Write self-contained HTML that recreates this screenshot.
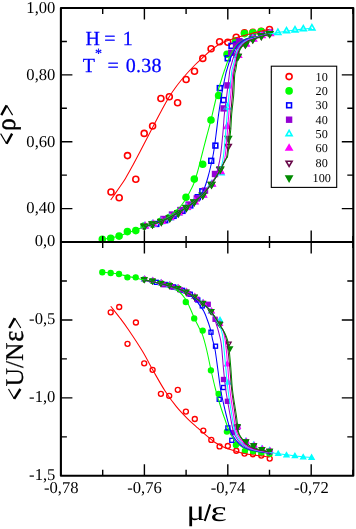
<!DOCTYPE html>
<html><head><meta charset="utf-8"><title>chart</title>
<style>
html,body{margin:0;padding:0;background:#fff}
body{width:356px;height:529px;overflow:hidden}
.t{font-family:"Liberation Serif",serif;text-rendering:geometricPrecision}
svg{will-change:transform}
</style></head><body>
<svg width="356" height="529" viewBox="0 0 356 529" style="display:block">
<rect width="356" height="529" fill="#ffffff"/>
<defs><clipPath id="ct"><rect x="60.9" y="8.1" width="292.4" height="233.9"/></clipPath><clipPath id="cb"><rect x="60.9" y="242.0" width="292.4" height="233.8"/></clipPath></defs>
<g clip-path="url(#ct)">
<circle cx="111.00" cy="192.00" r="3.00" fill="none" stroke="#ff0000" stroke-width="1.60"/>
<circle cx="119.20" cy="197.70" r="3.00" fill="none" stroke="#ff0000" stroke-width="1.60"/>
<circle cx="127.50" cy="155.60" r="3.00" fill="none" stroke="#ff0000" stroke-width="1.60"/>
<circle cx="135.80" cy="179.20" r="3.00" fill="none" stroke="#ff0000" stroke-width="1.60"/>
<circle cx="144.20" cy="133.40" r="3.00" fill="none" stroke="#ff0000" stroke-width="1.60"/>
<circle cx="152.60" cy="126.00" r="3.00" fill="none" stroke="#ff0000" stroke-width="1.60"/>
<circle cx="160.90" cy="98.50" r="3.00" fill="none" stroke="#ff0000" stroke-width="1.60"/>
<circle cx="169.30" cy="96.70" r="3.00" fill="none" stroke="#ff0000" stroke-width="1.60"/>
<circle cx="177.60" cy="102.80" r="3.00" fill="none" stroke="#ff0000" stroke-width="1.60"/>
<circle cx="186.10" cy="79.50" r="3.00" fill="none" stroke="#ff0000" stroke-width="1.60"/>
<circle cx="194.50" cy="71.20" r="3.00" fill="none" stroke="#ff0000" stroke-width="1.60"/>
<circle cx="202.80" cy="58.40" r="3.00" fill="none" stroke="#ff0000" stroke-width="1.60"/>
<circle cx="211.10" cy="48.70" r="3.00" fill="none" stroke="#ff0000" stroke-width="1.60"/>
<circle cx="219.60" cy="41.70" r="3.00" fill="none" stroke="#ff0000" stroke-width="1.60"/>
<circle cx="227.80" cy="42.20" r="3.00" fill="none" stroke="#ff0000" stroke-width="1.60"/>
<circle cx="236.20" cy="37.20" r="3.00" fill="none" stroke="#ff0000" stroke-width="1.60"/>
<circle cx="244.50" cy="32.70" r="3.00" fill="none" stroke="#ff0000" stroke-width="1.60"/>
<circle cx="252.90" cy="32.40" r="3.00" fill="none" stroke="#ff0000" stroke-width="1.60"/>
<circle cx="261.20" cy="31.20" r="3.00" fill="none" stroke="#ff0000" stroke-width="1.60"/>
<circle cx="269.50" cy="29.50" r="3.00" fill="none" stroke="#ff0000" stroke-width="1.60"/>
<circle cx="102.30" cy="239.20" r="3.00" fill="#00ff00" stroke="#00ff00" stroke-width="1.60"/>
<circle cx="110.70" cy="238.20" r="3.00" fill="#00ff00" stroke="#00ff00" stroke-width="1.60"/>
<circle cx="119.10" cy="236.10" r="3.00" fill="#00ff00" stroke="#00ff00" stroke-width="1.60"/>
<circle cx="127.40" cy="231.60" r="3.00" fill="#00ff00" stroke="#00ff00" stroke-width="1.60"/>
<circle cx="135.80" cy="230.60" r="3.00" fill="#00ff00" stroke="#00ff00" stroke-width="1.60"/>
<circle cx="144.10" cy="226.00" r="3.00" fill="#00ff00" stroke="#00ff00" stroke-width="1.60"/>
<circle cx="152.50" cy="224.30" r="3.00" fill="#00ff00" stroke="#00ff00" stroke-width="1.60"/>
<circle cx="160.90" cy="221.30" r="3.00" fill="#00ff00" stroke="#00ff00" stroke-width="1.60"/>
<circle cx="169.30" cy="217.50" r="3.00" fill="#00ff00" stroke="#00ff00" stroke-width="1.60"/>
<circle cx="177.60" cy="213.00" r="3.00" fill="#00ff00" stroke="#00ff00" stroke-width="1.60"/>
<circle cx="186.00" cy="197.20" r="3.00" fill="#00ff00" stroke="#00ff00" stroke-width="1.60"/>
<circle cx="194.30" cy="179.10" r="3.00" fill="#00ff00" stroke="#00ff00" stroke-width="1.60"/>
<circle cx="202.70" cy="164.20" r="3.00" fill="#00ff00" stroke="#00ff00" stroke-width="1.60"/>
<circle cx="211.00" cy="120.00" r="3.00" fill="#00ff00" stroke="#00ff00" stroke-width="1.60"/>
<circle cx="218.60" cy="95.50" r="3.00" fill="#00ff00" stroke="#00ff00" stroke-width="1.60"/>
<circle cx="227.00" cy="54.20" r="3.00" fill="#00ff00" stroke="#00ff00" stroke-width="1.60"/>
<circle cx="235.60" cy="40.70" r="3.00" fill="#00ff00" stroke="#00ff00" stroke-width="1.60"/>
<circle cx="244.50" cy="33.60" r="3.00" fill="#00ff00" stroke="#00ff00" stroke-width="1.60"/>
<circle cx="252.80" cy="32.70" r="3.00" fill="#00ff00" stroke="#00ff00" stroke-width="1.60"/>
<circle cx="261.20" cy="31.60" r="3.00" fill="#00ff00" stroke="#00ff00" stroke-width="1.60"/>
<circle cx="269.30" cy="33.00" r="3.00" fill="#00ff00" stroke="#00ff00" stroke-width="1.60"/>
<rect x="153.90" y="221.54" width="4.80" height="4.80" fill="none" stroke="#0000ff" stroke-width="1.60"/>
<rect x="162.80" y="217.85" width="4.80" height="4.80" fill="none" stroke="#0000ff" stroke-width="1.60"/>
<rect x="171.20" y="213.45" width="4.80" height="4.80" fill="none" stroke="#0000ff" stroke-width="1.60"/>
<rect x="180.10" y="208.48" width="4.80" height="4.80" fill="none" stroke="#0000ff" stroke-width="1.60"/>
<rect x="187.90" y="203.01" width="4.80" height="4.80" fill="none" stroke="#0000ff" stroke-width="1.60"/>
<rect x="195.40" y="194.80" width="4.80" height="4.80" fill="none" stroke="#0000ff" stroke-width="1.60"/>
<rect x="199.90" y="188.90" width="4.80" height="4.80" fill="none" stroke="#0000ff" stroke-width="1.60"/>
<rect x="208.80" y="158.40" width="4.80" height="4.80" fill="none" stroke="#0000ff" stroke-width="1.60"/>
<rect x="213.00" y="143.20" width="4.80" height="4.80" fill="none" stroke="#0000ff" stroke-width="1.60"/>
<rect x="217.40" y="85.70" width="4.80" height="4.80" fill="none" stroke="#0000ff" stroke-width="1.60"/>
<rect x="221.20" y="97.70" width="4.80" height="4.80" fill="none" stroke="#0000ff" stroke-width="1.60"/>
<rect x="225.30" y="55.90" width="4.80" height="4.80" fill="none" stroke="#0000ff" stroke-width="1.60"/>
<rect x="229.10" y="43.50" width="4.80" height="4.80" fill="none" stroke="#0000ff" stroke-width="1.60"/>
<rect x="233.90" y="42.10" width="4.80" height="4.80" fill="none" stroke="#0000ff" stroke-width="1.60"/>
<rect x="236.90" y="39.10" width="4.80" height="4.80" fill="none" stroke="#0000ff" stroke-width="1.60"/>
<rect x="243.00" y="40.40" width="4.80" height="4.80" fill="none" stroke="#0000ff" stroke-width="1.60"/>
<rect x="250.40" y="35.50" width="4.80" height="4.80" fill="none" stroke="#0000ff" stroke-width="1.60"/>
<rect x="258.90" y="32.40" width="4.80" height="4.80" fill="none" stroke="#0000ff" stroke-width="1.60"/>
<rect x="267.20" y="30.40" width="4.80" height="4.80" fill="none" stroke="#0000ff" stroke-width="1.60"/>
<rect x="161.10" y="216.60" width="4.80" height="4.80" fill="#9400d3" stroke="#9400d3" stroke-width="1.60"/>
<rect x="169.60" y="212.15" width="4.80" height="4.80" fill="#9400d3" stroke="#9400d3" stroke-width="1.60"/>
<rect x="178.00" y="207.63" width="4.80" height="4.80" fill="#9400d3" stroke="#9400d3" stroke-width="1.60"/>
<rect x="186.20" y="202.13" width="4.80" height="4.80" fill="#9400d3" stroke="#9400d3" stroke-width="1.60"/>
<rect x="194.40" y="196.04" width="4.80" height="4.80" fill="#9400d3" stroke="#9400d3" stroke-width="1.60"/>
<rect x="202.60" y="188.21" width="4.80" height="4.80" fill="#9400d3" stroke="#9400d3" stroke-width="1.60"/>
<rect x="212.60" y="171.60" width="4.80" height="4.80" fill="#9400d3" stroke="#9400d3" stroke-width="1.60"/>
<rect x="221.20" y="106.00" width="4.80" height="4.80" fill="#9400d3" stroke="#9400d3" stroke-width="1.60"/>
<rect x="225.10" y="83.00" width="4.80" height="4.80" fill="#9400d3" stroke="#9400d3" stroke-width="1.60"/>
<rect x="228.90" y="50.40" width="4.80" height="4.80" fill="#9400d3" stroke="#9400d3" stroke-width="1.60"/>
<rect x="233.60" y="43.40" width="4.80" height="4.80" fill="#9400d3" stroke="#9400d3" stroke-width="1.60"/>
<rect x="236.70" y="38.70" width="4.80" height="4.80" fill="#9400d3" stroke="#9400d3" stroke-width="1.60"/>
<rect x="243.00" y="40.40" width="4.80" height="4.80" fill="#9400d3" stroke="#9400d3" stroke-width="1.60"/>
<rect x="250.40" y="35.50" width="4.80" height="4.80" fill="#9400d3" stroke="#9400d3" stroke-width="1.60"/>
<rect x="258.90" y="32.40" width="4.80" height="4.80" fill="#9400d3" stroke="#9400d3" stroke-width="1.60"/>
<rect x="267.20" y="30.40" width="4.80" height="4.80" fill="#9400d3" stroke="#9400d3" stroke-width="1.60"/>
<polygon points="144.40,222.74 141.40,227.93 147.40,227.93" fill="none" stroke="#00ffff" stroke-width="1.60" stroke-linejoin="miter"/>
<polygon points="152.50,220.64 149.50,225.83 155.50,225.83" fill="none" stroke="#00ffff" stroke-width="1.60" stroke-linejoin="miter"/>
<polygon points="161.30,218.14 158.30,223.33 164.30,223.33" fill="none" stroke="#00ffff" stroke-width="1.60" stroke-linejoin="miter"/>
<polygon points="169.80,214.44 166.80,219.63 172.80,219.63" fill="none" stroke="#00ffff" stroke-width="1.60" stroke-linejoin="miter"/>
<polygon points="178.20,209.64 175.20,214.83 181.20,214.83" fill="none" stroke="#00ffff" stroke-width="1.60" stroke-linejoin="miter"/>
<polygon points="186.40,204.14 183.40,209.33 189.40,209.33" fill="none" stroke="#00ffff" stroke-width="1.60" stroke-linejoin="miter"/>
<polygon points="194.20,198.54 191.20,203.73 197.20,203.73" fill="none" stroke="#00ffff" stroke-width="1.60" stroke-linejoin="miter"/>
<polygon points="202.70,191.74 199.70,196.93 205.70,196.93" fill="none" stroke="#00ffff" stroke-width="1.60" stroke-linejoin="miter"/>
<polygon points="211.50,180.94 208.50,186.13 214.50,186.13" fill="none" stroke="#00ffff" stroke-width="1.60" stroke-linejoin="miter"/>
<polygon points="221.00,169.54 218.00,174.73 224.00,174.73" fill="none" stroke="#00ffff" stroke-width="1.60" stroke-linejoin="miter"/>
<polygon points="227.50,103.64 224.50,108.83 230.50,108.83" fill="none" stroke="#00ffff" stroke-width="1.60" stroke-linejoin="miter"/>
<polygon points="237.40,52.04 234.40,57.23 240.40,57.23" fill="none" stroke="#00ffff" stroke-width="1.60" stroke-linejoin="miter"/>
<polygon points="245.40,40.34 242.40,45.53 248.40,45.53" fill="none" stroke="#00ffff" stroke-width="1.60" stroke-linejoin="miter"/>
<polygon points="252.80,35.24 249.80,40.43 255.80,40.43" fill="none" stroke="#00ffff" stroke-width="1.60" stroke-linejoin="miter"/>
<polygon points="261.30,31.94 258.30,37.13 264.30,37.13" fill="none" stroke="#00ffff" stroke-width="1.60" stroke-linejoin="miter"/>
<polygon points="269.60,29.74 266.60,34.93 272.60,34.93" fill="none" stroke="#00ffff" stroke-width="1.60" stroke-linejoin="miter"/>
<polygon points="277.90,29.19 274.90,34.38 280.90,34.38" fill="none" stroke="#00ffff" stroke-width="1.60" stroke-linejoin="miter"/>
<polygon points="286.50,27.59 283.50,32.78 289.50,32.78" fill="none" stroke="#00ffff" stroke-width="1.60" stroke-linejoin="miter"/>
<polygon points="295.00,26.69 292.00,31.88 298.00,31.88" fill="none" stroke="#00ffff" stroke-width="1.60" stroke-linejoin="miter"/>
<polygon points="303.30,25.59 300.30,30.78 306.30,30.78" fill="none" stroke="#00ffff" stroke-width="1.60" stroke-linejoin="miter"/>
<polygon points="311.90,24.69 308.90,29.88 314.90,29.88" fill="none" stroke="#00ffff" stroke-width="1.60" stroke-linejoin="miter"/>
<polygon points="145.10,222.64 142.10,227.83 148.10,227.83" fill="#ff00ff" stroke="#ff00ff" stroke-width="1.60" stroke-linejoin="miter"/>
<polygon points="153.20,220.54 150.20,225.73 156.20,225.73" fill="#ff00ff" stroke="#ff00ff" stroke-width="1.60" stroke-linejoin="miter"/>
<polygon points="162.00,218.04 159.00,223.23 165.00,223.23" fill="#ff00ff" stroke="#ff00ff" stroke-width="1.60" stroke-linejoin="miter"/>
<polygon points="170.50,214.34 167.50,219.53 173.50,219.53" fill="#ff00ff" stroke="#ff00ff" stroke-width="1.60" stroke-linejoin="miter"/>
<polygon points="178.90,209.54 175.90,214.73 181.90,214.73" fill="#ff00ff" stroke="#ff00ff" stroke-width="1.60" stroke-linejoin="miter"/>
<polygon points="187.10,204.04 184.10,209.23 190.10,209.23" fill="#ff00ff" stroke="#ff00ff" stroke-width="1.60" stroke-linejoin="miter"/>
<polygon points="194.90,198.44 191.90,203.63 197.90,203.63" fill="#ff00ff" stroke="#ff00ff" stroke-width="1.60" stroke-linejoin="miter"/>
<polygon points="203.40,191.64 200.40,196.83 206.40,196.83" fill="#ff00ff" stroke="#ff00ff" stroke-width="1.60" stroke-linejoin="miter"/>
<polygon points="212.20,180.84 209.20,186.03 215.20,186.03" fill="#ff00ff" stroke="#ff00ff" stroke-width="1.60" stroke-linejoin="miter"/>
<polygon points="220.70,168.14 217.70,173.33 223.70,173.33" fill="#ff00ff" stroke="#ff00ff" stroke-width="1.60" stroke-linejoin="miter"/>
<polygon points="227.20,123.29 224.20,128.48 230.20,128.48" fill="#ff00ff" stroke="#ff00ff" stroke-width="1.60" stroke-linejoin="miter"/>
<polygon points="238.40,52.04 235.40,57.23 241.40,57.23" fill="#ff00ff" stroke="#ff00ff" stroke-width="1.60" stroke-linejoin="miter"/>
<polygon points="246.10,40.74 243.10,45.93 249.10,45.93" fill="#ff00ff" stroke="#ff00ff" stroke-width="1.60" stroke-linejoin="miter"/>
<polygon points="253.50,35.64 250.50,40.83 256.50,40.83" fill="#ff00ff" stroke="#ff00ff" stroke-width="1.60" stroke-linejoin="miter"/>
<polygon points="262.00,32.34 259.00,37.53 265.00,37.53" fill="#ff00ff" stroke="#ff00ff" stroke-width="1.60" stroke-linejoin="miter"/>
<polygon points="270.30,30.14 267.30,35.33 273.30,35.33" fill="#ff00ff" stroke="#ff00ff" stroke-width="1.60" stroke-linejoin="miter"/>
<polygon points="144.40,229.66 141.40,224.47 147.40,224.47" fill="none" stroke="#670748" stroke-width="1.60" stroke-linejoin="miter"/>
<polygon points="152.50,227.56 149.50,222.37 155.50,222.37" fill="none" stroke="#670748" stroke-width="1.60" stroke-linejoin="miter"/>
<polygon points="161.30,225.06 158.30,219.87 164.30,219.87" fill="none" stroke="#670748" stroke-width="1.60" stroke-linejoin="miter"/>
<polygon points="169.80,221.36 166.80,216.17 172.80,216.17" fill="none" stroke="#670748" stroke-width="1.60" stroke-linejoin="miter"/>
<polygon points="178.20,216.56 175.20,211.37 181.20,211.37" fill="none" stroke="#670748" stroke-width="1.60" stroke-linejoin="miter"/>
<polygon points="186.40,211.06 183.40,205.87 189.40,205.87" fill="none" stroke="#670748" stroke-width="1.60" stroke-linejoin="miter"/>
<polygon points="194.20,205.46 191.20,200.27 197.20,200.27" fill="none" stroke="#670748" stroke-width="1.60" stroke-linejoin="miter"/>
<polygon points="202.70,198.66 199.70,193.47 205.70,193.47" fill="none" stroke="#670748" stroke-width="1.60" stroke-linejoin="miter"/>
<polygon points="211.50,187.86 208.50,182.67 214.50,182.67" fill="none" stroke="#670748" stroke-width="1.60" stroke-linejoin="miter"/>
<polygon points="220.10,172.96 217.10,167.77 223.10,167.77" fill="none" stroke="#670748" stroke-width="1.60" stroke-linejoin="miter"/>
<polygon points="228.20,149.66 225.20,144.47 231.20,144.47" fill="none" stroke="#670748" stroke-width="1.60" stroke-linejoin="miter"/>
<polygon points="237.70,59.66 234.70,54.47 240.70,54.47" fill="none" stroke="#670748" stroke-width="1.60" stroke-linejoin="miter"/>
<polygon points="245.40,47.76 242.40,42.57 248.40,42.57" fill="none" stroke="#670748" stroke-width="1.60" stroke-linejoin="miter"/>
<polygon points="252.80,42.66 249.80,37.47 255.80,37.47" fill="none" stroke="#670748" stroke-width="1.60" stroke-linejoin="miter"/>
<polygon points="261.30,39.36 258.30,34.17 264.30,34.17" fill="none" stroke="#670748" stroke-width="1.60" stroke-linejoin="miter"/>
<polygon points="269.60,37.16 266.60,31.97 272.60,31.97" fill="none" stroke="#670748" stroke-width="1.60" stroke-linejoin="miter"/>
<polygon points="144.40,229.46 141.40,224.27 147.40,224.27" fill="#008b00" stroke="#008b00" stroke-width="1.60" stroke-linejoin="miter"/>
<polygon points="152.50,227.36 149.50,222.17 155.50,222.17" fill="#008b00" stroke="#008b00" stroke-width="1.60" stroke-linejoin="miter"/>
<polygon points="161.30,224.86 158.30,219.67 164.30,219.67" fill="#008b00" stroke="#008b00" stroke-width="1.60" stroke-linejoin="miter"/>
<polygon points="169.80,221.16 166.80,215.97 172.80,215.97" fill="#008b00" stroke="#008b00" stroke-width="1.60" stroke-linejoin="miter"/>
<polygon points="178.20,216.36 175.20,211.17 181.20,211.17" fill="#008b00" stroke="#008b00" stroke-width="1.60" stroke-linejoin="miter"/>
<polygon points="186.40,210.86 183.40,205.67 189.40,205.67" fill="#008b00" stroke="#008b00" stroke-width="1.60" stroke-linejoin="miter"/>
<polygon points="194.20,205.26 191.20,200.07 197.20,200.07" fill="#008b00" stroke="#008b00" stroke-width="1.60" stroke-linejoin="miter"/>
<polygon points="202.70,198.46 199.70,193.27 205.70,193.27" fill="#008b00" stroke="#008b00" stroke-width="1.60" stroke-linejoin="miter"/>
<polygon points="211.50,187.66 208.50,182.47 214.50,182.47" fill="#008b00" stroke="#008b00" stroke-width="1.60" stroke-linejoin="miter"/>
<polygon points="220.40,172.36 217.40,167.17 223.40,167.17" fill="#008b00" stroke="#008b00" stroke-width="1.60" stroke-linejoin="miter"/>
<polygon points="228.30,141.86 225.30,136.67 231.30,136.67" fill="#008b00" stroke="#008b00" stroke-width="1.60" stroke-linejoin="miter"/>
<polygon points="237.90,59.86 234.90,54.67 240.90,54.67" fill="#008b00" stroke="#008b00" stroke-width="1.60" stroke-linejoin="miter"/>
<polygon points="245.40,47.56 242.40,42.37 248.40,42.37" fill="#008b00" stroke="#008b00" stroke-width="1.60" stroke-linejoin="miter"/>
<polygon points="252.80,42.46 249.80,37.27 255.80,37.27" fill="#008b00" stroke="#008b00" stroke-width="1.60" stroke-linejoin="miter"/>
<polygon points="261.30,39.16 258.30,33.97 264.30,33.97" fill="#008b00" stroke="#008b00" stroke-width="1.60" stroke-linejoin="miter"/>
<polygon points="269.60,36.96 266.60,31.77 272.60,31.77" fill="#008b00" stroke="#008b00" stroke-width="1.60" stroke-linejoin="miter"/>
<path d="M110.70,200.00 C111.92,198.25 115.57,193.05 118.00,189.50 C120.43,185.95 122.80,182.78 125.30,178.70 C127.80,174.62 130.47,169.65 133.00,165.00 C135.53,160.35 137.23,157.05 140.50,150.80 C143.77,144.55 149.18,134.05 152.60,127.50 C156.02,120.95 158.25,116.58 161.00,111.50 C163.75,106.42 166.43,101.33 169.10,97.00 C171.77,92.67 174.18,89.25 177.00,85.50 C179.82,81.75 183.02,77.92 186.00,74.50 C188.98,71.08 192.10,67.83 194.90,65.00 C197.70,62.17 200.17,59.92 202.80,57.50 C205.43,55.08 207.73,52.83 210.70,50.50 C213.67,48.17 216.43,45.58 220.60,43.50 C224.77,41.42 230.80,39.58 235.70,38.00 C240.60,36.42 245.95,35.10 250.00,34.00 C254.05,32.90 256.75,32.15 260.00,31.40 C263.25,30.65 267.92,29.82 269.50,29.50" fill="none" stroke="#ff0000" stroke-width="1.05"/>
<path d="M102.30,239.20 C103.70,239.00 107.90,238.53 110.70,238.00 C113.50,237.47 116.32,236.83 119.10,236.00 C121.88,235.17 124.62,234.00 127.40,233.00 C130.18,232.00 133.02,231.03 135.80,230.00 C138.58,228.97 141.40,227.77 144.10,226.80 C146.80,225.83 149.87,224.87 152.00,224.20 C154.13,223.53 154.68,223.70 156.90,222.80 C159.12,221.90 162.50,220.43 165.30,218.80 C168.10,217.17 171.25,214.97 173.70,213.00 C176.15,211.03 178.28,208.87 180.00,207.00 C181.72,205.13 182.83,203.47 184.00,201.80 C185.17,200.13 185.92,198.88 187.00,197.00 C188.08,195.12 189.37,192.75 190.50,190.50 C191.63,188.25 192.63,186.58 193.80,183.50 C194.97,180.42 196.13,176.83 197.50,172.00 C198.87,167.17 200.50,160.33 202.00,154.50 C203.50,148.67 205.00,142.75 206.50,137.00 C208.00,131.25 209.27,127.00 211.00,120.00 C212.73,113.00 214.92,102.50 216.90,95.00 C218.88,87.50 221.62,79.17 222.90,75.00 C224.18,70.83 223.67,72.63 224.60,70.00 C225.53,67.37 227.10,62.50 228.50,59.20 C229.90,55.90 231.32,52.82 233.00,50.20 C234.68,47.58 236.73,45.27 238.60,43.50 C240.47,41.73 242.30,40.55 244.20,39.60 C246.10,38.65 248.20,38.27 250.00,37.80 C251.80,37.33 253.12,37.20 255.00,36.80 C256.88,36.40 258.88,35.90 261.30,35.40 C263.72,34.90 268.13,34.07 269.50,33.80" fill="none" stroke="#00ff00" stroke-width="1.05"/>
<path d="M144.10,226.80 C145.42,226.43 148.93,225.60 152.00,224.60 C155.07,223.60 158.88,222.37 162.50,220.80 C166.12,219.23 169.95,217.25 173.70,215.20 C177.45,213.15 181.48,210.78 185.00,208.50 C188.52,206.22 192.13,203.75 194.80,201.50 C197.47,199.25 199.35,197.35 201.00,195.00 C202.65,192.65 203.53,190.40 204.70,187.40 C205.87,184.40 206.95,180.73 208.00,177.00 C209.05,173.27 210.08,169.00 211.00,165.00 C211.92,161.00 212.67,158.00 213.50,153.00 C214.33,148.00 215.17,141.33 216.00,135.00 C216.83,128.67 217.57,121.67 218.50,115.00 C219.43,108.33 220.43,101.67 221.60,95.00 C222.77,88.33 224.63,79.17 225.50,75.00 C226.37,70.83 226.02,72.63 226.80,70.00 C227.58,67.37 229.10,62.12 230.20,59.20 C231.30,56.28 232.32,54.65 233.40,52.50 C234.48,50.35 235.38,48.05 236.70,46.30 C238.02,44.55 239.58,43.25 241.30,42.00 C243.02,40.75 244.88,39.53 247.00,38.80 C249.12,38.07 251.67,38.10 254.00,37.60 C256.33,37.10 258.40,36.40 261.00,35.80 C263.60,35.20 268.17,34.30 269.60,34.00" fill="none" stroke="#0000ff" stroke-width="1.05"/>
<path d="M144.10,226.80 C145.42,226.43 148.93,225.60 152.00,224.60 C155.07,223.60 158.88,222.37 162.50,220.80 C166.12,219.23 169.95,217.25 173.70,215.20 C177.45,213.15 181.48,210.78 185.00,208.50 C188.52,206.22 191.52,204.20 194.80,201.50 C198.08,198.80 201.42,196.13 204.70,192.30 C207.98,188.47 212.28,182.55 214.50,178.50 C216.72,174.45 216.98,171.92 218.00,168.00 C219.02,164.08 219.78,160.83 220.60,155.00 C221.42,149.17 222.27,139.83 222.90,133.00 C223.53,126.17 223.75,120.33 224.40,114.00 C225.05,107.67 225.98,101.50 226.80,95.00 C227.62,88.50 228.78,79.17 229.30,75.00 C229.82,70.83 229.38,72.33 229.90,70.00 C230.42,67.67 231.62,63.67 232.40,61.00 C233.18,58.33 233.77,56.20 234.60,54.00 C235.43,51.80 236.23,49.63 237.40,47.80 C238.57,45.97 240.00,44.37 241.60,43.00 C243.20,41.63 244.93,40.45 247.00,39.60 C249.07,38.75 251.67,38.50 254.00,37.90 C256.33,37.30 258.40,36.63 261.00,36.00 C263.60,35.37 268.17,34.42 269.60,34.10" fill="none" stroke="#9400d3" stroke-width="1.05"/>
<path d="M144.10,226.80 C145.42,226.43 148.93,225.60 152.00,224.60 C155.07,223.60 158.88,222.37 162.50,220.80 C166.12,219.23 169.95,217.25 173.70,215.20 C177.45,213.15 181.48,210.78 185.00,208.50 C188.52,206.22 191.52,204.20 194.80,201.50 C198.08,198.80 201.42,195.97 204.70,192.30 C207.98,188.63 212.12,182.88 214.50,179.50 C216.88,176.12 217.83,174.25 219.00,172.00 C220.17,169.75 220.73,168.83 221.50,166.00 C222.27,163.17 222.87,161.00 223.60,155.00 C224.33,149.00 225.30,136.83 225.90,130.00 C226.50,123.17 226.68,119.83 227.20,114.00 C227.72,108.17 228.30,101.50 229.00,95.00 C229.70,88.50 230.90,79.17 231.40,75.00 C231.90,70.83 231.52,72.25 232.00,70.00 C232.48,67.75 233.67,64.00 234.30,61.50 C234.93,59.00 235.13,57.15 235.80,55.00 C236.47,52.85 237.25,50.48 238.30,48.60 C239.35,46.72 240.58,45.10 242.10,43.70 C243.62,42.30 245.42,41.12 247.40,40.20 C249.38,39.28 251.57,38.92 254.00,38.20 C256.43,37.48 259.40,36.58 262.00,35.90 C264.60,35.22 266.95,34.65 269.60,34.10 C272.25,33.55 275.08,33.08 277.90,32.60 C280.72,32.12 283.65,31.62 286.50,31.20 C289.35,30.78 292.20,30.45 295.00,30.10 C297.80,29.75 300.48,29.42 303.30,29.10 C306.12,28.78 310.47,28.35 311.90,28.20" fill="none" stroke="#00ffff" stroke-width="1.05"/>
<path d="M144.10,226.80 C145.42,226.43 148.93,225.60 152.00,224.60 C155.07,223.60 158.88,222.37 162.50,220.80 C166.12,219.23 169.95,217.25 173.70,215.20 C177.45,213.15 181.48,210.78 185.00,208.50 C188.52,206.22 191.52,204.20 194.80,201.50 C198.08,198.80 201.42,195.97 204.70,192.30 C207.98,188.63 211.70,183.63 214.50,179.50 C217.30,175.37 220.00,170.25 221.50,167.50 C223.00,164.75 222.87,165.08 223.50,163.00 C224.13,160.92 224.62,160.50 225.30,155.00 C225.98,149.50 227.02,136.83 227.60,130.00 C228.18,123.17 228.28,119.83 228.80,114.00 C229.32,108.17 230.07,101.50 230.70,95.00 C231.33,88.50 232.13,79.17 232.60,75.00 C233.07,70.83 233.05,72.17 233.50,70.00 C233.95,67.83 234.78,64.42 235.30,62.00 C235.82,59.58 235.98,57.67 236.60,55.50 C237.22,53.33 238.00,50.88 239.00,49.00 C240.00,47.12 241.15,45.60 242.60,44.20 C244.05,42.80 245.80,41.55 247.70,40.60 C249.60,39.65 251.78,39.22 254.00,38.50 C256.22,37.78 258.40,37.02 261.00,36.30 C263.60,35.58 268.17,34.55 269.60,34.20" fill="none" stroke="#ff00ff" stroke-width="1.05"/>
<path d="M144.10,226.80 C145.42,226.43 148.93,225.60 152.00,224.60 C155.07,223.60 158.88,222.37 162.50,220.80 C166.12,219.23 169.95,217.25 173.70,215.20 C177.45,213.15 181.48,210.78 185.00,208.50 C188.52,206.22 191.52,204.20 194.80,201.50 C198.08,198.80 201.42,195.97 204.70,192.30 C207.98,188.63 211.72,183.60 214.50,179.50 C217.28,175.40 219.90,170.37 221.40,167.70 C222.90,165.03 222.82,164.78 223.50,163.50 C224.18,162.22 224.92,161.42 225.50,160.00 C226.08,158.58 226.33,160.00 227.00,155.00 C227.67,150.00 228.88,136.83 229.50,130.00 C230.12,123.17 230.22,119.83 230.70,114.00 C231.18,108.17 231.90,101.50 232.40,95.00 C232.90,88.50 233.35,79.17 233.70,75.00 C234.05,70.83 234.08,72.17 234.50,70.00 C234.92,67.83 235.73,64.33 236.20,62.00 C236.67,59.67 236.75,58.08 237.30,56.00 C237.85,53.92 238.55,51.40 239.50,49.50 C240.45,47.60 241.58,46.02 243.00,44.60 C244.42,43.18 246.17,41.97 248.00,41.00 C249.83,40.03 251.83,39.55 254.00,38.80 C256.17,38.05 258.40,37.25 261.00,36.50 C263.60,35.75 268.17,34.67 269.60,34.30" fill="none" stroke="#670748" stroke-width="1.05"/>
<path d="M144.10,226.80 C145.42,226.43 148.93,225.60 152.00,224.60 C155.07,223.60 158.88,222.37 162.50,220.80 C166.12,219.23 169.95,217.25 173.70,215.20 C177.45,213.15 181.48,210.78 185.00,208.50 C188.52,206.22 191.52,204.20 194.80,201.50 C198.08,198.80 201.42,195.97 204.70,192.30 C207.98,188.63 211.72,183.60 214.50,179.50 C217.28,175.40 219.73,170.70 221.40,167.70 C223.07,164.70 223.65,163.12 224.50,161.50 C225.35,159.88 225.95,159.08 226.50,158.00 C227.05,156.92 227.10,159.67 227.80,155.00 C228.50,150.33 230.05,136.83 230.70,130.00 C231.35,123.17 231.20,119.83 231.70,114.00 C232.20,108.17 233.20,101.50 233.70,95.00 C234.20,88.50 234.35,79.17 234.70,75.00 C235.05,70.83 235.42,72.17 235.80,70.00 C236.18,67.83 236.65,64.30 237.00,62.00 C237.35,59.70 237.38,58.28 237.90,56.20 C238.42,54.12 239.17,51.40 240.10,49.50 C241.03,47.60 242.15,46.15 243.50,44.80 C244.85,43.45 246.45,42.35 248.20,41.40 C249.95,40.45 251.87,39.88 254.00,39.10 C256.13,38.32 258.40,37.48 261.00,36.70 C263.60,35.92 268.17,34.78 269.60,34.40" fill="none" stroke="#008b00" stroke-width="1.05"/>
</g>
<g clip-path="url(#cb)">
<circle cx="110.70" cy="312.30" r="2.50" fill="none" stroke="#ff0000" stroke-width="1.35"/>
<circle cx="119.20" cy="307.00" r="2.50" fill="none" stroke="#ff0000" stroke-width="1.35"/>
<circle cx="127.50" cy="343.80" r="2.50" fill="none" stroke="#ff0000" stroke-width="1.35"/>
<circle cx="135.90" cy="322.50" r="2.50" fill="none" stroke="#ff0000" stroke-width="1.35"/>
<circle cx="144.20" cy="363.30" r="2.50" fill="none" stroke="#ff0000" stroke-width="1.35"/>
<circle cx="152.60" cy="369.80" r="2.50" fill="none" stroke="#ff0000" stroke-width="1.35"/>
<circle cx="160.90" cy="393.80" r="2.50" fill="none" stroke="#ff0000" stroke-width="1.35"/>
<circle cx="169.20" cy="395.80" r="2.50" fill="none" stroke="#ff0000" stroke-width="1.35"/>
<circle cx="177.80" cy="389.80" r="2.50" fill="none" stroke="#ff0000" stroke-width="1.35"/>
<circle cx="185.90" cy="411.60" r="2.50" fill="none" stroke="#ff0000" stroke-width="1.35"/>
<circle cx="194.80" cy="419.00" r="2.50" fill="none" stroke="#ff0000" stroke-width="1.35"/>
<circle cx="203.30" cy="430.60" r="2.50" fill="none" stroke="#ff0000" stroke-width="1.35"/>
<circle cx="211.30" cy="439.90" r="2.50" fill="none" stroke="#ff0000" stroke-width="1.35"/>
<circle cx="219.60" cy="446.40" r="2.50" fill="none" stroke="#ff0000" stroke-width="1.35"/>
<circle cx="227.80" cy="446.00" r="2.50" fill="none" stroke="#ff0000" stroke-width="1.35"/>
<circle cx="236.30" cy="450.70" r="2.50" fill="none" stroke="#ff0000" stroke-width="1.35"/>
<circle cx="244.50" cy="453.60" r="2.50" fill="none" stroke="#ff0000" stroke-width="1.35"/>
<circle cx="253.00" cy="454.20" r="2.50" fill="none" stroke="#ff0000" stroke-width="1.35"/>
<circle cx="261.30" cy="455.60" r="2.50" fill="none" stroke="#ff0000" stroke-width="1.35"/>
<circle cx="269.70" cy="458.60" r="2.50" fill="none" stroke="#ff0000" stroke-width="1.35"/>
<circle cx="102.30" cy="272.20" r="2.50" fill="#00ff00" stroke="#00ff00" stroke-width="1.35"/>
<circle cx="110.70" cy="273.00" r="2.50" fill="#00ff00" stroke="#00ff00" stroke-width="1.35"/>
<circle cx="119.00" cy="274.00" r="2.50" fill="#00ff00" stroke="#00ff00" stroke-width="1.35"/>
<circle cx="127.40" cy="277.30" r="2.50" fill="#00ff00" stroke="#00ff00" stroke-width="1.35"/>
<circle cx="135.70" cy="277.30" r="2.50" fill="#00ff00" stroke="#00ff00" stroke-width="1.35"/>
<circle cx="144.20" cy="279.30" r="2.50" fill="#00ff00" stroke="#00ff00" stroke-width="1.35"/>
<circle cx="152.50" cy="281.00" r="2.50" fill="#00ff00" stroke="#00ff00" stroke-width="1.35"/>
<circle cx="160.90" cy="283.00" r="2.50" fill="#00ff00" stroke="#00ff00" stroke-width="1.35"/>
<circle cx="169.30" cy="285.00" r="2.50" fill="#00ff00" stroke="#00ff00" stroke-width="1.35"/>
<circle cx="177.60" cy="287.80" r="2.50" fill="#00ff00" stroke="#00ff00" stroke-width="1.35"/>
<circle cx="185.80" cy="302.00" r="2.50" fill="#00ff00" stroke="#00ff00" stroke-width="1.35"/>
<circle cx="194.20" cy="318.40" r="2.50" fill="#00ff00" stroke="#00ff00" stroke-width="1.35"/>
<circle cx="202.70" cy="330.60" r="2.50" fill="#00ff00" stroke="#00ff00" stroke-width="1.35"/>
<circle cx="210.90" cy="370.30" r="2.50" fill="#00ff00" stroke="#00ff00" stroke-width="1.35"/>
<circle cx="218.60" cy="393.80" r="2.50" fill="#00ff00" stroke="#00ff00" stroke-width="1.35"/>
<circle cx="226.90" cy="431.60" r="2.50" fill="#00ff00" stroke="#00ff00" stroke-width="1.35"/>
<circle cx="235.90" cy="445.00" r="2.50" fill="#00ff00" stroke="#00ff00" stroke-width="1.35"/>
<circle cx="244.90" cy="450.80" r="2.50" fill="#00ff00" stroke="#00ff00" stroke-width="1.35"/>
<circle cx="253.10" cy="451.50" r="2.50" fill="#00ff00" stroke="#00ff00" stroke-width="1.35"/>
<circle cx="261.30" cy="452.80" r="2.50" fill="#00ff00" stroke="#00ff00" stroke-width="1.35"/>
<circle cx="269.50" cy="454.00" r="2.50" fill="#00ff00" stroke="#00ff00" stroke-width="1.35"/>
<rect x="154.30" y="280.32" width="4.00" height="4.00" fill="none" stroke="#0000ff" stroke-width="1.35"/>
<rect x="163.20" y="282.47" width="4.00" height="4.00" fill="none" stroke="#0000ff" stroke-width="1.35"/>
<rect x="171.60" y="284.91" width="4.00" height="4.00" fill="none" stroke="#0000ff" stroke-width="1.35"/>
<rect x="180.50" y="288.34" width="4.00" height="4.00" fill="none" stroke="#0000ff" stroke-width="1.35"/>
<rect x="188.30" y="292.28" width="4.00" height="4.00" fill="none" stroke="#0000ff" stroke-width="1.35"/>
<rect x="195.80" y="298.00" width="4.00" height="4.00" fill="none" stroke="#0000ff" stroke-width="1.35"/>
<rect x="200.30" y="303.90" width="4.00" height="4.00" fill="none" stroke="#0000ff" stroke-width="1.35"/>
<rect x="209.00" y="330.20" width="4.00" height="4.00" fill="none" stroke="#0000ff" stroke-width="1.35"/>
<rect x="213.50" y="344.20" width="4.00" height="4.00" fill="none" stroke="#0000ff" stroke-width="1.35"/>
<rect x="217.20" y="397.30" width="4.00" height="4.00" fill="none" stroke="#0000ff" stroke-width="1.35"/>
<rect x="221.50" y="385.50" width="4.00" height="4.00" fill="none" stroke="#0000ff" stroke-width="1.35"/>
<rect x="225.90" y="425.90" width="4.00" height="4.00" fill="none" stroke="#0000ff" stroke-width="1.35"/>
<rect x="229.80" y="438.30" width="4.00" height="4.00" fill="none" stroke="#0000ff" stroke-width="1.35"/>
<rect x="235.50" y="425.30" width="4.00" height="4.00" fill="none" stroke="#0000ff" stroke-width="1.35"/>
<rect x="243.80" y="440.20" width="4.00" height="4.00" fill="none" stroke="#0000ff" stroke-width="1.35"/>
<rect x="251.70" y="444.30" width="4.00" height="4.00" fill="none" stroke="#0000ff" stroke-width="1.35"/>
<rect x="259.90" y="447.80" width="4.00" height="4.00" fill="none" stroke="#0000ff" stroke-width="1.35"/>
<rect x="267.60" y="449.60" width="4.00" height="4.00" fill="none" stroke="#0000ff" stroke-width="1.35"/>
<rect x="161.50" y="282.65" width="4.00" height="4.00" fill="#9400d3" stroke="#9400d3" stroke-width="1.35"/>
<rect x="170.00" y="284.97" width="4.00" height="4.00" fill="#9400d3" stroke="#9400d3" stroke-width="1.35"/>
<rect x="178.40" y="287.93" width="4.00" height="4.00" fill="#9400d3" stroke="#9400d3" stroke-width="1.35"/>
<rect x="186.60" y="291.86" width="4.00" height="4.00" fill="#9400d3" stroke="#9400d3" stroke-width="1.35"/>
<rect x="194.80" y="297.28" width="4.00" height="4.00" fill="#9400d3" stroke="#9400d3" stroke-width="1.35"/>
<rect x="206.20" y="302.30" width="4.00" height="4.00" fill="#9400d3" stroke="#9400d3" stroke-width="1.35"/>
<rect x="213.10" y="317.30" width="4.00" height="4.00" fill="#9400d3" stroke="#9400d3" stroke-width="1.35"/>
<rect x="221.50" y="377.50" width="4.00" height="4.00" fill="#9400d3" stroke="#9400d3" stroke-width="1.35"/>
<rect x="225.40" y="399.30" width="4.00" height="4.00" fill="#9400d3" stroke="#9400d3" stroke-width="1.35"/>
<rect x="230.60" y="430.50" width="4.00" height="4.00" fill="#9400d3" stroke="#9400d3" stroke-width="1.35"/>
<rect x="235.50" y="425.30" width="4.00" height="4.00" fill="#9400d3" stroke="#9400d3" stroke-width="1.35"/>
<rect x="243.80" y="440.20" width="4.00" height="4.00" fill="#9400d3" stroke="#9400d3" stroke-width="1.35"/>
<rect x="251.70" y="444.30" width="4.00" height="4.00" fill="#9400d3" stroke="#9400d3" stroke-width="1.35"/>
<rect x="259.90" y="447.80" width="4.00" height="4.00" fill="#9400d3" stroke="#9400d3" stroke-width="1.35"/>
<rect x="267.60" y="449.60" width="4.00" height="4.00" fill="#9400d3" stroke="#9400d3" stroke-width="1.35"/>
<polygon points="144.20,276.51 141.70,280.84 146.70,280.84" fill="#00ffff" stroke="#00ffff" stroke-width="1.35" stroke-linejoin="miter"/>
<polygon points="152.40,278.01 149.90,282.34 154.90,282.34" fill="#00ffff" stroke="#00ffff" stroke-width="1.35" stroke-linejoin="miter"/>
<polygon points="160.90,280.31 158.40,284.64 163.40,284.64" fill="#00ffff" stroke="#00ffff" stroke-width="1.35" stroke-linejoin="miter"/>
<polygon points="169.40,282.41 166.90,286.74 171.90,286.74" fill="#00ffff" stroke="#00ffff" stroke-width="1.35" stroke-linejoin="miter"/>
<polygon points="177.80,285.31 175.30,289.64 180.30,289.64" fill="#00ffff" stroke="#00ffff" stroke-width="1.35" stroke-linejoin="miter"/>
<polygon points="186.10,289.01 183.60,293.34 188.60,293.34" fill="#00ffff" stroke="#00ffff" stroke-width="1.35" stroke-linejoin="miter"/>
<polygon points="194.40,294.01 191.90,298.34 196.90,298.34" fill="#00ffff" stroke="#00ffff" stroke-width="1.35" stroke-linejoin="miter"/>
<polygon points="202.80,300.21 200.30,304.54 205.30,304.54" fill="#00ffff" stroke="#00ffff" stroke-width="1.35" stroke-linejoin="miter"/>
<polygon points="211.10,308.51 208.60,312.84 213.60,312.84" fill="#00ffff" stroke="#00ffff" stroke-width="1.35" stroke-linejoin="miter"/>
<polygon points="220.00,317.41 217.50,321.74 222.50,321.74" fill="#00ffff" stroke="#00ffff" stroke-width="1.35" stroke-linejoin="miter"/>
<polygon points="228.20,379.71 225.70,384.04 230.70,384.04" fill="#00ffff" stroke="#00ffff" stroke-width="1.35" stroke-linejoin="miter"/>
<polygon points="237.00,424.11 234.50,428.44 239.50,428.44" fill="#00ffff" stroke="#00ffff" stroke-width="1.35" stroke-linejoin="miter"/>
<polygon points="245.80,438.31 243.30,442.64 248.30,442.64" fill="#00ffff" stroke="#00ffff" stroke-width="1.35" stroke-linejoin="miter"/>
<polygon points="253.70,442.21 251.20,446.54 256.20,446.54" fill="#00ffff" stroke="#00ffff" stroke-width="1.35" stroke-linejoin="miter"/>
<polygon points="261.90,445.91 259.40,450.24 264.40,450.24" fill="#00ffff" stroke="#00ffff" stroke-width="1.35" stroke-linejoin="miter"/>
<polygon points="269.60,447.71 267.10,452.04 272.10,452.04" fill="#00ffff" stroke="#00ffff" stroke-width="1.35" stroke-linejoin="miter"/>
<polygon points="278.20,451.01 275.70,455.34 280.70,455.34" fill="#00ffff" stroke="#00ffff" stroke-width="1.35" stroke-linejoin="miter"/>
<polygon points="286.50,452.61 284.00,456.94 289.00,456.94" fill="#00ffff" stroke="#00ffff" stroke-width="1.35" stroke-linejoin="miter"/>
<polygon points="294.90,453.31 292.40,457.64 297.40,457.64" fill="#00ffff" stroke="#00ffff" stroke-width="1.35" stroke-linejoin="miter"/>
<polygon points="303.20,454.51 300.70,458.84 305.70,458.84" fill="#00ffff" stroke="#00ffff" stroke-width="1.35" stroke-linejoin="miter"/>
<polygon points="311.60,454.91 309.10,459.24 314.10,459.24" fill="#00ffff" stroke="#00ffff" stroke-width="1.35" stroke-linejoin="miter"/>
<polygon points="144.70,276.41 142.20,280.74 147.20,280.74" fill="#ff00ff" stroke="#ff00ff" stroke-width="1.35" stroke-linejoin="miter"/>
<polygon points="152.90,277.91 150.40,282.24 155.40,282.24" fill="#ff00ff" stroke="#ff00ff" stroke-width="1.35" stroke-linejoin="miter"/>
<polygon points="161.40,280.21 158.90,284.54 163.90,284.54" fill="#ff00ff" stroke="#ff00ff" stroke-width="1.35" stroke-linejoin="miter"/>
<polygon points="169.90,282.31 167.40,286.64 172.40,286.64" fill="#ff00ff" stroke="#ff00ff" stroke-width="1.35" stroke-linejoin="miter"/>
<polygon points="178.30,285.21 175.80,289.54 180.80,289.54" fill="#ff00ff" stroke="#ff00ff" stroke-width="1.35" stroke-linejoin="miter"/>
<polygon points="186.60,288.91 184.10,293.24 189.10,293.24" fill="#ff00ff" stroke="#ff00ff" stroke-width="1.35" stroke-linejoin="miter"/>
<polygon points="194.90,293.91 192.40,298.24 197.40,298.24" fill="#ff00ff" stroke="#ff00ff" stroke-width="1.35" stroke-linejoin="miter"/>
<polygon points="203.30,300.11 200.80,304.44 205.80,304.44" fill="#ff00ff" stroke="#ff00ff" stroke-width="1.35" stroke-linejoin="miter"/>
<polygon points="211.60,308.41 209.10,312.74 214.10,312.74" fill="#ff00ff" stroke="#ff00ff" stroke-width="1.35" stroke-linejoin="miter"/>
<polygon points="219.80,321.11 217.30,325.44 222.30,325.44" fill="#ff00ff" stroke="#ff00ff" stroke-width="1.35" stroke-linejoin="miter"/>
<polygon points="227.30,361.41 224.80,365.74 229.80,365.74" fill="#ff00ff" stroke="#ff00ff" stroke-width="1.35" stroke-linejoin="miter"/>
<polygon points="237.70,424.11 235.20,428.44 240.20,428.44" fill="#ff00ff" stroke="#ff00ff" stroke-width="1.35" stroke-linejoin="miter"/>
<polygon points="246.30,438.61 243.80,442.94 248.80,442.94" fill="#ff00ff" stroke="#ff00ff" stroke-width="1.35" stroke-linejoin="miter"/>
<polygon points="254.20,442.51 251.70,446.84 256.70,446.84" fill="#ff00ff" stroke="#ff00ff" stroke-width="1.35" stroke-linejoin="miter"/>
<polygon points="262.40,446.21 259.90,450.54 264.90,450.54" fill="#ff00ff" stroke="#ff00ff" stroke-width="1.35" stroke-linejoin="miter"/>
<polygon points="270.10,448.01 267.60,452.34 272.60,452.34" fill="#ff00ff" stroke="#ff00ff" stroke-width="1.35" stroke-linejoin="miter"/>
<polygon points="144.20,282.19 141.70,277.86 146.70,277.86" fill="none" stroke="#670748" stroke-width="1.35" stroke-linejoin="miter"/>
<polygon points="152.40,283.69 149.90,279.36 154.90,279.36" fill="none" stroke="#670748" stroke-width="1.35" stroke-linejoin="miter"/>
<polygon points="160.90,285.99 158.40,281.66 163.40,281.66" fill="none" stroke="#670748" stroke-width="1.35" stroke-linejoin="miter"/>
<polygon points="169.40,288.09 166.90,283.76 171.90,283.76" fill="none" stroke="#670748" stroke-width="1.35" stroke-linejoin="miter"/>
<polygon points="177.80,290.99 175.30,286.66 180.30,286.66" fill="none" stroke="#670748" stroke-width="1.35" stroke-linejoin="miter"/>
<polygon points="186.10,294.69 183.60,290.36 188.60,290.36" fill="none" stroke="#670748" stroke-width="1.35" stroke-linejoin="miter"/>
<polygon points="194.40,299.69 191.90,295.36 196.90,295.36" fill="none" stroke="#670748" stroke-width="1.35" stroke-linejoin="miter"/>
<polygon points="202.80,305.89 200.30,301.56 205.30,301.56" fill="none" stroke="#670748" stroke-width="1.35" stroke-linejoin="miter"/>
<polygon points="211.10,314.19 208.60,309.86 213.60,309.86" fill="none" stroke="#670748" stroke-width="1.35" stroke-linejoin="miter"/>
<polygon points="219.80,326.89 217.30,322.56 222.30,322.56" fill="none" stroke="#670748" stroke-width="1.35" stroke-linejoin="miter"/>
<polygon points="228.60,346.49 226.10,342.16 231.10,342.16" fill="none" stroke="#670748" stroke-width="1.35" stroke-linejoin="miter"/>
<polygon points="237.20,429.89 234.70,425.56 239.70,425.56" fill="none" stroke="#670748" stroke-width="1.35" stroke-linejoin="miter"/>
<polygon points="245.80,444.39 243.30,440.06 248.30,440.06" fill="none" stroke="#670748" stroke-width="1.35" stroke-linejoin="miter"/>
<polygon points="253.70,448.29 251.20,443.96 256.20,443.96" fill="none" stroke="#670748" stroke-width="1.35" stroke-linejoin="miter"/>
<polygon points="261.90,451.99 259.40,447.66 264.40,447.66" fill="none" stroke="#670748" stroke-width="1.35" stroke-linejoin="miter"/>
<polygon points="269.60,453.79 267.10,449.46 272.10,449.46" fill="none" stroke="#670748" stroke-width="1.35" stroke-linejoin="miter"/>
<polygon points="144.20,282.09 141.70,277.76 146.70,277.76" fill="#008b00" stroke="#008b00" stroke-width="1.35" stroke-linejoin="miter"/>
<polygon points="152.40,283.59 149.90,279.26 154.90,279.26" fill="#008b00" stroke="#008b00" stroke-width="1.35" stroke-linejoin="miter"/>
<polygon points="160.90,285.89 158.40,281.56 163.40,281.56" fill="#008b00" stroke="#008b00" stroke-width="1.35" stroke-linejoin="miter"/>
<polygon points="169.40,287.99 166.90,283.66 171.90,283.66" fill="#008b00" stroke="#008b00" stroke-width="1.35" stroke-linejoin="miter"/>
<polygon points="177.80,290.89 175.30,286.56 180.30,286.56" fill="#008b00" stroke="#008b00" stroke-width="1.35" stroke-linejoin="miter"/>
<polygon points="186.10,294.59 183.60,290.26 188.60,290.26" fill="#008b00" stroke="#008b00" stroke-width="1.35" stroke-linejoin="miter"/>
<polygon points="194.40,299.59 191.90,295.26 196.90,295.26" fill="#008b00" stroke="#008b00" stroke-width="1.35" stroke-linejoin="miter"/>
<polygon points="202.80,305.79 200.30,301.46 205.30,301.46" fill="#008b00" stroke="#008b00" stroke-width="1.35" stroke-linejoin="miter"/>
<polygon points="211.10,314.09 208.60,309.76 213.60,309.76" fill="#008b00" stroke="#008b00" stroke-width="1.35" stroke-linejoin="miter"/>
<polygon points="219.50,326.59 217.00,322.26 222.00,322.26" fill="#008b00" stroke="#008b00" stroke-width="1.35" stroke-linejoin="miter"/>
<polygon points="229.80,351.29 227.30,346.96 232.30,346.96" fill="#008b00" stroke="#008b00" stroke-width="1.35" stroke-linejoin="miter"/>
<polygon points="237.40,429.09 234.90,424.76 239.90,424.76" fill="#008b00" stroke="#008b00" stroke-width="1.35" stroke-linejoin="miter"/>
<polygon points="245.80,444.29 243.30,439.96 248.30,439.96" fill="#008b00" stroke="#008b00" stroke-width="1.35" stroke-linejoin="miter"/>
<polygon points="253.70,448.19 251.20,443.86 256.20,443.86" fill="#008b00" stroke="#008b00" stroke-width="1.35" stroke-linejoin="miter"/>
<polygon points="261.90,451.89 259.40,447.56 264.40,447.56" fill="#008b00" stroke="#008b00" stroke-width="1.35" stroke-linejoin="miter"/>
<polygon points="269.60,453.69 267.10,449.36 272.10,449.36" fill="#008b00" stroke="#008b00" stroke-width="1.35" stroke-linejoin="miter"/>
<path d="M110.70,306.20 C112.25,308.17 116.95,313.95 120.00,318.00 C123.05,322.05 125.25,324.95 129.00,330.50 C132.75,336.05 138.38,344.45 142.50,351.30 C146.62,358.15 149.97,365.03 153.70,371.60 C157.43,378.17 161.15,384.90 164.90,390.70 C168.65,396.50 172.45,401.75 176.20,406.40 C179.95,411.05 184.03,415.20 187.40,418.60 C190.77,422.00 193.50,424.20 196.40,426.80 C199.30,429.40 201.75,431.63 204.80,434.20 C207.85,436.77 211.42,440.00 214.70,442.20 C217.98,444.40 221.23,445.98 224.50,447.40 C227.77,448.82 231.02,449.67 234.30,450.70 C237.58,451.73 240.92,452.85 244.20,453.60 C247.48,454.35 250.53,454.73 254.00,455.20 C257.47,455.67 262.40,456.10 265.00,456.40 C267.60,456.70 268.83,456.90 269.60,457.00" fill="none" stroke="#ff0000" stroke-width="1.05"/>
<path d="M102.30,272.20 C103.70,272.33 107.92,272.67 110.70,273.00 C113.48,273.33 116.22,273.67 119.00,274.20 C121.78,274.73 124.62,275.57 127.40,276.20 C130.18,276.83 132.90,277.37 135.70,278.00 C138.50,278.63 141.42,279.38 144.20,280.00 C146.98,280.62 149.62,281.08 152.40,281.70 C155.18,282.32 158.02,283.00 160.90,283.70 C163.78,284.40 166.85,284.77 169.70,285.90 C172.55,287.03 175.32,288.23 178.00,290.50 C180.68,292.77 183.80,296.58 185.80,299.50 C187.80,302.42 188.55,304.83 190.00,308.00 C191.45,311.17 192.97,315.17 194.50,318.50 C196.03,321.83 197.83,325.18 199.20,328.00 C200.57,330.82 201.45,331.73 202.70,335.40 C203.95,339.07 205.28,344.07 206.70,350.00 C208.12,355.93 209.70,364.33 211.20,371.00 C212.70,377.67 214.32,384.67 215.70,390.00 C217.08,395.33 218.22,398.83 219.50,403.00 C220.78,407.17 221.72,410.18 223.40,415.00 C225.08,419.82 227.73,427.68 229.60,431.90 C231.47,436.12 232.45,437.72 234.60,440.30 C236.75,442.88 239.93,445.73 242.50,447.40 C245.07,449.07 246.87,449.48 250.00,450.30 C253.13,451.12 258.05,451.78 261.30,452.30 C264.55,452.82 268.13,453.22 269.50,453.40" fill="none" stroke="#00ff00" stroke-width="1.05"/>
<path d="M144.20,280.00 C145.57,280.28 149.62,281.08 152.40,281.70 C155.18,282.32 158.02,283.00 160.90,283.70 C163.78,284.40 166.60,284.98 169.70,285.90 C172.80,286.82 176.23,287.87 179.50,289.20 C182.77,290.53 186.58,292.10 189.30,293.90 C192.02,295.70 194.10,298.15 195.80,300.00 C197.50,301.85 198.18,303.17 199.50,305.00 C200.82,306.83 202.40,308.55 203.70,311.00 C205.00,313.45 206.22,316.78 207.30,319.70 C208.38,322.62 209.33,325.23 210.20,328.50 C211.07,331.77 211.68,335.72 212.50,339.30 C213.32,342.88 214.20,344.88 215.10,350.00 C216.00,355.12 216.97,363.33 217.90,370.00 C218.83,376.67 219.75,384.33 220.70,390.00 C221.65,395.67 222.68,399.83 223.60,404.00 C224.52,408.17 224.97,410.35 226.20,415.00 C227.43,419.65 229.37,427.68 231.00,431.90 C232.63,436.12 233.92,437.77 236.00,440.30 C238.08,442.83 241.00,445.47 243.50,447.10 C246.00,448.73 248.25,449.32 251.00,450.10 C253.75,450.88 256.90,451.28 260.00,451.80 C263.10,452.32 268.00,452.97 269.60,453.20" fill="none" stroke="#0000ff" stroke-width="1.05"/>
<path d="M144.20,280.00 C145.57,280.28 149.62,281.08 152.40,281.70 C155.18,282.32 158.02,283.00 160.90,283.70 C163.78,284.40 166.60,284.98 169.70,285.90 C172.80,286.82 176.23,287.87 179.50,289.20 C182.77,290.53 186.02,292.00 189.30,293.90 C192.58,295.80 195.92,298.05 199.20,300.60 C202.48,303.15 206.62,306.55 209.00,309.20 C211.38,311.85 212.37,314.28 213.50,316.50 C214.63,318.72 215.05,320.30 215.80,322.50 C216.55,324.70 217.17,326.62 218.00,329.70 C218.83,332.78 220.15,337.62 220.80,341.00 C221.45,344.38 221.43,345.17 221.90,350.00 C222.37,354.83 222.95,363.33 223.60,370.00 C224.25,376.67 224.72,382.50 225.80,390.00 C226.88,397.50 228.82,408.02 230.10,415.00 C231.38,421.98 232.18,427.68 233.50,431.90 C234.82,436.12 236.08,437.80 238.00,440.30 C239.92,442.80 242.67,445.32 245.00,446.90 C247.33,448.48 249.50,449.05 252.00,449.80 C254.50,450.55 257.07,450.88 260.00,451.40 C262.93,451.92 268.00,452.65 269.60,452.90" fill="none" stroke="#9400d3" stroke-width="1.05"/>
<path d="M144.20,280.00 C145.57,280.28 149.62,281.08 152.40,281.70 C155.18,282.32 158.02,283.00 160.90,283.70 C163.78,284.40 166.60,284.98 169.70,285.90 C172.80,286.82 176.23,287.87 179.50,289.20 C182.77,290.53 186.02,292.00 189.30,293.90 C192.58,295.80 195.92,298.05 199.20,300.60 C202.48,303.15 205.63,305.05 209.00,309.20 C212.37,313.35 217.15,321.20 219.40,325.50 C221.65,329.80 221.72,330.92 222.50,335.00 C223.28,339.08 223.52,344.17 224.10,350.00 C224.68,355.83 225.35,363.33 226.00,370.00 C226.65,376.67 227.03,382.50 228.00,390.00 C228.97,397.50 230.63,408.02 231.80,415.00 C232.97,421.98 233.72,427.68 235.00,431.90 C236.28,436.12 237.67,437.85 239.50,440.30 C241.33,442.75 243.75,445.05 246.00,446.60 C248.25,448.15 250.67,448.87 253.00,449.60 C255.33,450.33 257.23,450.50 260.00,451.00 C262.77,451.50 266.57,452.13 269.60,452.60 C272.63,453.07 273.98,453.25 278.20,453.80 C282.42,454.35 289.33,455.27 294.90,455.90 C300.47,456.53 308.82,457.32 311.60,457.60" fill="none" stroke="#00ffff" stroke-width="1.05"/>
<path d="M144.20,280.00 C145.57,280.28 149.62,281.08 152.40,281.70 C155.18,282.32 158.02,283.00 160.90,283.70 C163.78,284.40 166.60,284.98 169.70,285.90 C172.80,286.82 176.23,287.87 179.50,289.20 C182.77,290.53 186.02,292.00 189.30,293.90 C192.58,295.80 195.92,298.05 199.20,300.60 C202.48,303.15 206.05,305.97 209.00,309.20 C211.95,312.43 214.83,316.95 216.90,320.00 C218.97,323.05 220.22,325.17 221.40,327.50 C222.58,329.83 223.18,330.25 224.00,334.00 C224.82,337.75 225.63,344.00 226.30,350.00 C226.97,356.00 227.40,363.33 228.00,370.00 C228.60,376.67 228.98,382.50 229.90,390.00 C230.82,397.50 232.40,408.02 233.50,415.00 C234.60,421.98 235.25,427.68 236.50,431.90 C237.75,436.12 239.25,437.90 241.00,440.30 C242.75,442.70 244.92,444.82 247.00,446.30 C249.08,447.78 251.33,448.47 253.50,449.20 C255.67,449.93 257.32,450.18 260.00,450.70 C262.68,451.22 268.00,452.03 269.60,452.30" fill="none" stroke="#ff00ff" stroke-width="1.05"/>
<path d="M144.20,280.00 C145.57,280.28 149.62,281.08 152.40,281.70 C155.18,282.32 158.02,283.00 160.90,283.70 C163.78,284.40 166.60,284.98 169.70,285.90 C172.80,286.82 176.23,287.87 179.50,289.20 C182.77,290.53 186.02,292.00 189.30,293.90 C192.58,295.80 195.92,298.05 199.20,300.60 C202.48,303.15 206.05,305.97 209.00,309.20 C211.95,312.43 214.83,316.95 216.90,320.00 C218.97,323.05 220.33,325.75 221.40,327.50 C222.47,329.25 222.53,328.75 223.30,330.50 C224.07,332.25 225.22,334.75 226.00,338.00 C226.78,341.25 227.33,344.67 228.00,350.00 C228.67,355.33 229.38,363.33 230.00,370.00 C230.62,376.67 230.83,382.50 231.70,390.00 C232.57,397.50 234.18,408.02 235.20,415.00 C236.22,421.98 236.53,427.68 237.80,431.90 C239.07,436.12 241.10,437.97 242.80,440.30 C244.50,442.63 246.13,444.50 248.00,445.90 C249.87,447.30 252.00,447.98 254.00,448.70 C256.00,449.42 257.40,449.65 260.00,450.20 C262.60,450.75 268.00,451.70 269.60,452.00" fill="none" stroke="#670748" stroke-width="1.05"/>
<path d="M144.20,280.00 C145.57,280.28 149.62,281.08 152.40,281.70 C155.18,282.32 158.02,283.00 160.90,283.70 C163.78,284.40 166.60,284.98 169.70,285.90 C172.80,286.82 176.23,287.87 179.50,289.20 C182.77,290.53 186.02,292.00 189.30,293.90 C192.58,295.80 195.92,298.05 199.20,300.60 C202.48,303.15 206.05,305.97 209.00,309.20 C211.95,312.43 214.83,316.95 216.90,320.00 C218.97,323.05 220.13,325.42 221.40,327.50 C222.67,329.58 223.48,330.42 224.50,332.50 C225.52,334.58 226.72,337.08 227.50,340.00 C228.28,342.92 228.62,345.00 229.20,350.00 C229.78,355.00 230.45,363.33 231.00,370.00 C231.55,376.67 231.62,382.50 232.50,390.00 C233.38,397.50 235.30,408.02 236.30,415.00 C237.30,421.98 237.68,428.15 238.50,431.90 C239.32,435.65 240.15,435.88 241.20,437.50 C242.25,439.12 243.50,440.32 244.80,441.60 C246.10,442.88 247.47,444.17 249.00,445.20 C250.53,446.23 252.17,447.03 254.00,447.80 C255.83,448.57 257.40,449.15 260.00,449.80 C262.60,450.45 268.00,451.38 269.60,451.70" fill="none" stroke="#008b00" stroke-width="1.05"/>
</g>
<path d="M102.70,8.05 v6.00 M102.70,236.00 v12.00 M102.70,469.80 v6.00 M144.40,8.05 v11.50 M144.40,230.50 v23.00 M144.40,464.30 v11.50 M186.10,8.05 v6.00 M186.10,236.00 v12.00 M186.10,469.80 v6.00 M227.80,8.05 v11.50 M227.80,230.50 v23.00 M227.80,464.30 v11.50 M269.50,8.05 v6.00 M269.50,236.00 v12.00 M269.50,469.80 v6.00 M311.20,8.05 v11.50 M311.20,230.50 v23.00 M311.20,464.30 v11.50 M352.90,8.05 v6.00 M352.90,236.00 v12.00 M352.90,469.80 v6.00 M60.90,208.58 h11.50 M341.80,208.58 h11.50 M60.90,175.16 h6.00 M347.30,175.16 h6.00 M60.90,141.74 h11.50 M341.80,141.74 h11.50 M60.90,108.31 h6.00 M347.30,108.31 h6.00 M60.90,74.89 h11.50 M341.80,74.89 h11.50 M60.90,41.47 h6.00 M347.30,41.47 h6.00 M60.90,280.97 h6.00 M347.30,280.97 h6.00 M60.90,319.93 h11.50 M341.80,319.93 h11.50 M60.90,358.90 h6.00 M347.30,358.90 h6.00 M60.90,397.87 h11.50 M341.80,397.87 h11.50 M60.90,436.83 h6.00 M347.30,436.83 h6.00" fill="none" stroke="#000" stroke-width="1.4"/>
<rect x="60.90" y="8.05" width="292.40" height="467.75" fill="none" stroke="#000" stroke-width="2.1" stroke-linejoin="round"/>
<path d="M60.90,242.00 H353.30" stroke="#000" stroke-width="2"/>
<rect x="271.30" y="66.20" width="65.40" height="121.20" fill="#fff" stroke="#000" stroke-width="1.1"/>
<circle cx="289.10" cy="76.60" r="3.00" fill="none" stroke="#ff0000" stroke-width="1.60"/>
<text x="321.7" y="80.50" text-anchor="middle" font-size="12.2" class="t">10</text>
<circle cx="289.10" cy="90.90" r="3.00" fill="#00ff00" stroke="#00ff00" stroke-width="1.60"/>
<text x="321.7" y="94.80" text-anchor="middle" font-size="12.2" class="t">20</text>
<rect x="286.70" y="102.90" width="4.80" height="4.80" fill="none" stroke="#0000ff" stroke-width="1.60"/>
<text x="321.7" y="109.20" text-anchor="middle" font-size="12.2" class="t">30</text>
<rect x="286.70" y="117.30" width="4.80" height="4.80" fill="#9400d3" stroke="#9400d3" stroke-width="1.60"/>
<text x="321.7" y="123.60" text-anchor="middle" font-size="12.2" class="t">40</text>
<polygon points="289.10,130.44 286.10,135.63 292.10,135.63" fill="none" stroke="#00ffff" stroke-width="1.60" stroke-linejoin="miter"/>
<text x="321.7" y="137.80" text-anchor="middle" font-size="12.2" class="t">50</text>
<polygon points="289.10,144.84 286.10,150.03 292.10,150.03" fill="#ff00ff" stroke="#ff00ff" stroke-width="1.60" stroke-linejoin="miter"/>
<text x="321.7" y="152.20" text-anchor="middle" font-size="12.2" class="t">60</text>
<polygon points="289.10,166.46 286.10,161.27 292.10,161.27" fill="none" stroke="#670748" stroke-width="1.60" stroke-linejoin="miter"/>
<text x="321.7" y="166.90" text-anchor="middle" font-size="12.2" class="t">80</text>
<polygon points="289.10,181.36 286.10,176.17 292.10,176.17" fill="#008b00" stroke="#008b00" stroke-width="1.60" stroke-linejoin="miter"/>
<text x="321.7" y="181.80" text-anchor="middle" font-size="12.2" class="t">100</text>
<text x="55.40" y="12.85" text-anchor="end" font-size="16.6" class="t">1,00</text>
<text x="55.40" y="79.69" text-anchor="end" font-size="16.6" class="t">0,80</text>
<text x="55.40" y="146.54" text-anchor="end" font-size="16.6" class="t">0,60</text>
<text x="55.40" y="213.38" text-anchor="end" font-size="16.6" class="t">0,40</text>
<text x="55.40" y="246.20" text-anchor="end" font-size="16.6" class="t">0,0</text>
<text x="55.40" y="324.33" text-anchor="end" font-size="16.6" class="t">-0,5</text>
<text x="55.40" y="402.27" text-anchor="end" font-size="16.6" class="t">-1,0</text>
<text x="55.40" y="480.20" text-anchor="end" font-size="16.6" class="t">-1,5</text>
<text x="61.20" y="493.20" text-anchor="middle" font-size="16.6" class="t">-0,78</text>
<text x="144.60" y="493.20" text-anchor="middle" font-size="16.6" class="t">-0,76</text>
<text x="228.00" y="493.20" text-anchor="middle" font-size="16.6" class="t">-0,74</text>
<text x="311.40" y="493.20" text-anchor="middle" font-size="16.6" class="t">-0,72</text>
<text x="85.4" y="44.8" font-size="20" class="t" fill="#0000ff" stroke="#0000ff" stroke-width="0.25" letter-spacing="0.4">H<tspan dx="-1.3"> =</tspan><tspan dx="1.3"> 1</tspan></text>
<text x="82.8" y="71.9" font-size="20" class="t" fill="#0000ff" stroke="#0000ff" stroke-width="0.25">T<tspan dy="-13.7" font-size="14">*</tspan><tspan dy="13.7" dx="0.2" letter-spacing="0.3"> =</tspan><tspan dx="1.3" letter-spacing="0.3"> 0.38</tspan></text>
<path d="M12.60,115.10 L6.60,105.40" stroke="#000" stroke-width="1.10" fill="none"/>
<path d="M1.30,115.10 L6.60,105.40" stroke="#000" stroke-width="2.40" fill="none"/>
<text transform="translate(14.55,124.6) rotate(-90) scale(0.95,1)" text-anchor="middle" font-size="27" class="t" stroke="#000" stroke-width="0.45">&#961;</text>
<path d="M0.60,133.60 L6.60,143.80" stroke="#000" stroke-width="1.10" fill="none"/>
<path d="M12.10,133.60 L6.60,143.80" stroke="#000" stroke-width="2.40" fill="none"/>
<path d="M20.80,328.00 L14.70,318.20" stroke="#000" stroke-width="1.10" fill="none"/>
<path d="M9.20,328.00 L14.70,318.20" stroke="#000" stroke-width="2.40" fill="none"/>
<text transform="translate(23.2,341.7) rotate(-90) scale(0.905,1)" font-size="29.5" class="t" stroke="#000" stroke-width="0.4">&#949;</text>
<text transform="translate(23.2,386.5) rotate(-90)" font-size="25.6" class="t" stroke="#000" stroke-width="0.2">U/N</text>
<path d="M8.50,389.00 L14.20,398.80" stroke="#000" stroke-width="1.10" fill="none"/>
<path d="M20.40,389.00 L14.20,398.80" stroke="#000" stroke-width="2.40" fill="none"/>
<text transform="translate(186.5,520.3) scale(1.17,1)" font-size="29.5" class="t">&#956;</text>
<path d="M204.7,521 L210.2,504.4" stroke="#000" stroke-width="2" fill="none"/>
<text transform="translate(210.5,520.5) scale(1.3,1)" font-size="29.7" class="t">&#949;</text>
</svg>
</body></html>
